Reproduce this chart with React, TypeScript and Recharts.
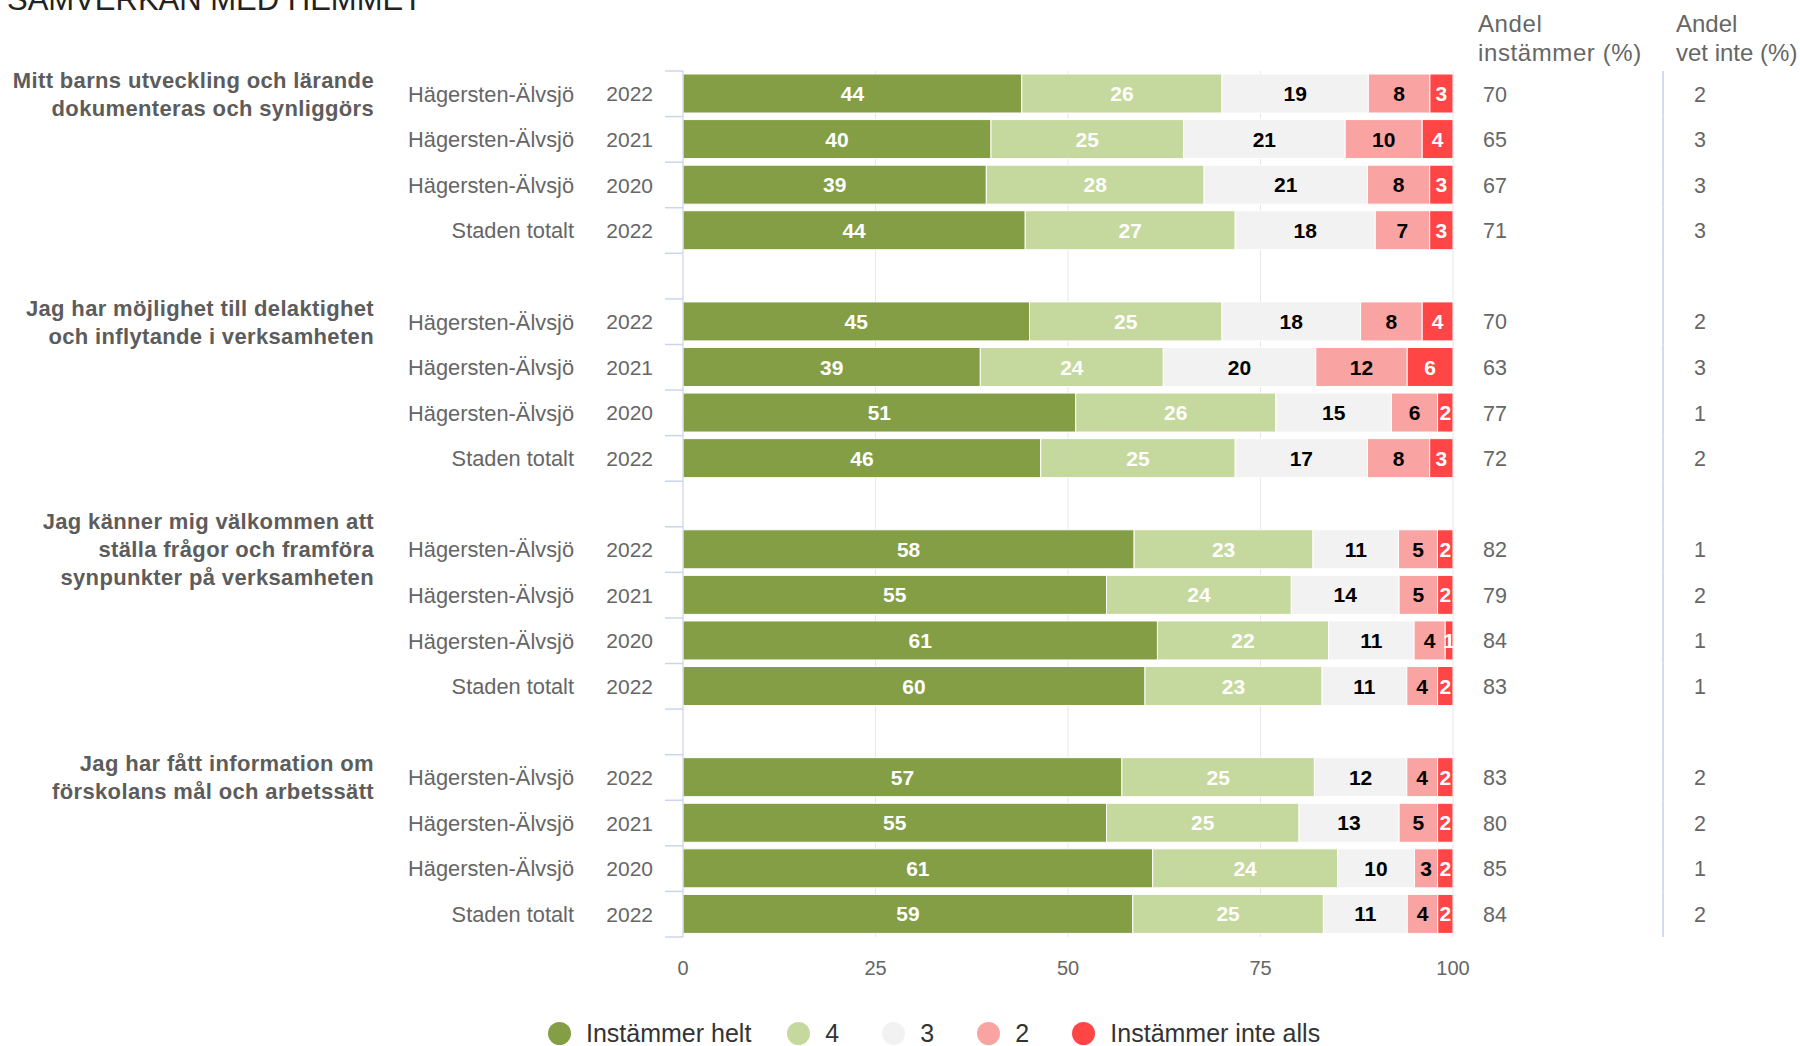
import React from "react";
import { Bar, BarChart, CartesianGrid, LabelList, XAxis, YAxis } from "recharts";

// Samverkan med hemmet — andel svar per påstående, 100 % staplade (Highcharts-lik stil).

const FONT = '"Liberation Sans", Arial, Helvetica, sans-serif';

const questions = [
  ["Mitt barns utveckling och lärande", "dokumenteras och synliggörs"],
  ["Jag har möjlighet till delaktighet", "och inflytande i verksamheten"],
  ["Jag känner mig välkommen att", "ställa frågor och framföra", "synpunkter på verksamheten"],
  ["Jag har fått information om", "förskolans mål och arbetssätt"],
];
const units = ["Hägersten-Älvsjö", "Hägersten-Älvsjö", "Hägersten-Älvsjö", "Staden totalt"];
const years = ["2022", "2021", "2020", "2022"];

const helt = [44, 40, 39, 44, 45, 39, 51, 46, 58, 55, 61, 60, 57, 55, 61, 59];
const fyra = [26, 25, 28, 27, 25, 24, 26, 25, 23, 24, 22, 23, 25, 25, 24, 25];
const tre = [19, 21, 21, 18, 18, 20, 15, 17, 11, 14, 11, 11, 12, 13, 10, 11];
const tva = [8, 10, 8, 7, 8, 12, 6, 8, 5, 5, 4, 4, 4, 5, 3, 4];
const inteAlls = [3, 4, 3, 3, 4, 6, 2, 3, 2, 2, 1, 2, 2, 2, 2, 2];
const andelInstammer = [70, 65, 67, 71, 70, 63, 77, 72, 82, 79, 84, 83, 83, 80, 85, 84];
const andelVetInte = [2, 3, 3, 3, 2, 3, 1, 2, 1, 2, 1, 1, 2, 2, 1, 2];

const xTicks = [0, 25, 50, 75, 100];

const series = [
  { key: "helt", name: "Instämmer helt", color: "#839e45", text: "#ffffff" },
  { key: "fyra", name: "4", color: "#c5d89d", text: "#ffffff" },
  { key: "tre", name: "3", color: "#f2f2f2", text: "#000000" },
  { key: "tva", name: "2", color: "#f9a3a3", text: "#000000" },
  { key: "inteAlls", name: "Instämmer inte alls", color: "#ff4545", text: "#ffffff" },
];

type Row = {
  key: string;
  unit?: string;
  year?: string;
  question?: string[];
  instammer?: number;
  vetInte?: number;
  helt?: number;
  fyra?: number;
  tre?: number;
  tva?: number;
  inteAlls?: number;
};

const rows: Row[] = [];
questions.forEach((q, qi) => {
  if (qi > 0) rows.push({ key: `gap${qi}` });
  for (let r = 0; r < 4; r++) {
    const i = qi * 4 + r;
    rows.push({
      key: `q${qi}r${r}`,
      unit: units[r],
      year: years[r],
      question: r === 0 ? q : undefined,
      instammer: andelInstammer[i],
      vetInte: andelVetInte[i],
      helt: helt[i],
      fyra: fyra[i],
      tre: tre[i],
      tva: tva[i],
      inteAlls: inteAlls[i],
    });
  }
});

const W = 1800;
const H = 1046;
const MARGIN = { top: 71, right: 0, bottom: 69, left: 0 };
const LEFT_W = 683;
const RIGHT_W = 347;
const X_AXIS_H = 40;
const PLOT_LEFT = MARGIN.left + LEFT_W;
const PLOT_H = H - MARGIN.top - MARGIN.bottom - X_AXIS_H;
const BAND = PLOT_H / rows.length;

const muted = "#666666";

function LeftTick(props: any) {
  const { y, index } = props;
  const row = rows[index];
  if (!row) return null;
  const top = y - BAND / 2;
  const q = row.question;
  return (
    <g>
      <line x1={PLOT_LEFT - 18} x2={PLOT_LEFT} y1={top} y2={top} stroke="#ccd6eb" strokeWidth={1.5} />
      {index === rows.length - 1 && (
        <line
          x1={PLOT_LEFT - 18}
          x2={PLOT_LEFT}
          y1={y + BAND / 2}
          y2={y + BAND / 2}
          stroke="#ccd6eb"
          strokeWidth={1.5}
        />
      )}
      {row.unit && (
        <text x={574} y={y} dy="0.36em" textAnchor="end" fill={muted} fontSize={21.8} fontFamily={FONT}>
          {row.unit}
        </text>
      )}
      {row.year && (
        <text x={653} y={y} dy="0.36em" textAnchor="end" fill={muted} fontSize={21} fontFamily={FONT}>
          {row.year}
        </text>
      )}
      {q && (
        <text
          x={374}
          y={y - ((q.length - 1) * 28) / 2}
          textAnchor="end"
          fill="#5c5c5c"
          fontSize={22}
          fontWeight="bold"
          letterSpacing={0.35}
          fontFamily={FONT}
        >
          {q.map((line, k) => (
            <tspan key={k} x={374} dy={k === 0 ? "0.36em" : 28}>
              {line}
            </tspan>
          ))}
        </text>
      )}
    </g>
  );
}

function RightTick(props: any) {
  const { y, index } = props;
  const row = rows[index];
  if (!row) return null;
  return (
    <g>
      <line x1={1663} x2={1663} y1={y - BAND / 2} y2={y + BAND / 2} stroke="#d3dcef" strokeWidth={2} />
      {row.instammer != null && (
        <text x={1483} y={y} dy="0.36em" fill={muted} fontSize={21.5} fontFamily={FONT}>
          {row.instammer}
        </text>
      )}
      {row.vetInte != null && (
        <text x={1700} y={y} dy="0.36em" textAnchor="middle" fill={muted} fontSize={21.5} fontFamily={FONT}>
          {row.vetInte}
        </text>
      )}
    </g>
  );
}

function segmentLabel(color: string) {
  return (props: any) => {
    const { x, y, width, height, value } = props;
    if (value == null || !width) return null;
    return (
      <text
        x={x + width / 2}
        y={y + height / 2}
        dy="0.36em"
        textAnchor="middle"
        fill={color}
        fontSize={21}
        fontWeight="bold"
        fontFamily={FONT}
      >
        {value}
      </text>
    );
  };
}

function ChartLegend() {
  return (
    <div
      style={{
        position: "absolute",
        left: 548,
        top: 1021,
        height: 24,
        display: "flex",
        alignItems: "center",
        gap: 36,
        fontFamily: FONT,
        fontSize: 25,
        color: "#333333",
      }}
    >
      {series.map((s) => (
        <div key={s.key} style={{ display: "flex", alignItems: "center", minWidth: 59 }}>
          <span
            style={{
              width: 23,
              height: 23,
              borderRadius: "50%",
              background: s.color,
              marginRight: 15,
              display: "inline-block",
            }}
          />
          <span>{s.name}</span>
        </div>
      ))}
    </div>
  );
}

export default function App() {
  return (
    <div
      style={{
        position: "absolute",
        left: 0,
        top: 0,
        width: W,
        height: H,
        background: "#ffffff",
        overflow: "hidden",
        fontFamily: FONT,
      }}
    >
      <BarChart
        width={W}
        height={H}
        data={rows}
        layout="vertical"
        stackOffset="expand"
        margin={MARGIN}
      >
        <CartesianGrid horizontal={false} stroke="#e6e6e6" />
        <XAxis
          type="number"
          domain={[0, 1]}
          ticks={xTicks.map((t) => t / 100)}
          tickFormatter={(v: number) => String(Math.round(v * 100))}
          height={X_AXIS_H}
          axisLine={false}
          tickLine={false}
          tickMargin={18}
          tick={{ fill: muted, fontSize: 20, fontFamily: FONT }}
          allowDataOverflow
        />
        <YAxis
          type="category"
          dataKey="key"
          width={LEFT_W}
          axisLine={{ stroke: "#ccd6eb" }}
          tickLine={false}
          tick={<LeftTick />}
          interval={0}
        />
        <YAxis
          yAxisId="right"
          orientation="right"
          type="category"
          dataKey="key"
          width={RIGHT_W}
          axisLine={false}
          tickLine={false}
          tick={<RightTick />}
          interval={0}
        />
        {series.map((s) => (
          <Bar
            key={s.key}
            dataKey={s.key}
            name={s.name}
            stackId="svar"
            fill={s.color}
            stroke="#ffffff"
            strokeWidth={1}
            barSize={39}
            isAnimationActive={false}
          >
            <LabelList dataKey={s.key} content={segmentLabel(s.text)} />
          </Bar>
        ))}
      </BarChart>

      <svg width={W} height={H} style={{ position: "absolute", left: 0, top: 0, pointerEvents: "none" }}>
        <text x={7} y={10} fontSize={31} fill="#222222" fontFamily={FONT}>
          SAMVERKAN MED HEMMET
        </text>
        <text fontSize={24} fill={muted} fontFamily={FONT} letterSpacing={0.6}>
          <tspan x={1478} y={32}>Andel</tspan>
          <tspan x={1478} y={61}>instämmer (%)</tspan>
        </text>
        <text fontSize={24} fill={muted} fontFamily={FONT}>
          <tspan x={1676} y={32}>Andel</tspan>
          <tspan x={1676} y={61}>vet inte (%)</tspan>
        </text>
      </svg>

      <ChartLegend />
    </div>
  );
}
